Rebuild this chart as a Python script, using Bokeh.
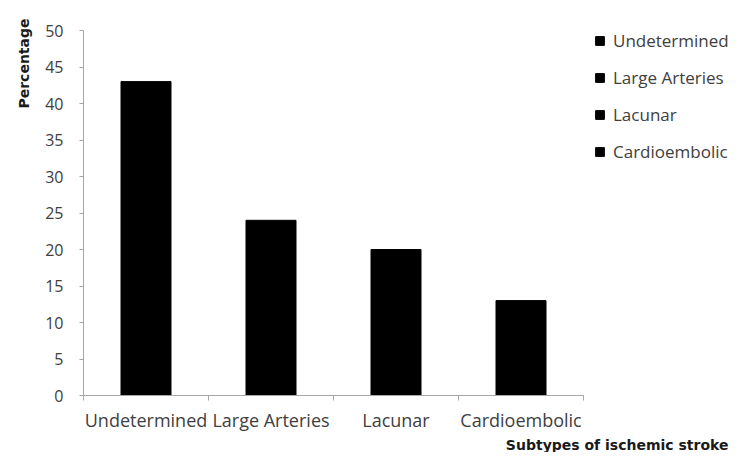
from bokeh.plotting import figure
from bokeh.models import ColumnDataSource, Range1d, FixedTicker, Legend, LegendItem, Title
from bokeh.embed import file_html
from bokeh.resources import INLINE

categories = ["Undetermined", "Large Arteries", "Lacunar", "Cardioembolic"]
values = [43, 24, 20, 13]
y_ticks = [0, 5, 10, 15, 20, 25, 30, 35, 40, 45, 50]

xs = [i + 0.5 for i in range(len(categories))]
src = ColumnDataSource(dict(x=xs, top=values, cat=categories))

W, H = 732, 452
left, bottom = 83, 55
x_end = (W - left) / 125.0
y_end = 50 + 30 / 7.3   # room above the 50 tick for the legend

p = figure(width=W, height=H, output_backend="svg", toolbar_location=None,
           x_range=Range1d(0, x_end), y_range=Range1d(0, y_end),
           min_border_left=left, min_border_right=0, min_border_top=0, min_border_bottom=bottom)
p.outline_line_color = None
p.xgrid.grid_line_color = None
p.ygrid.grid_line_color = None

r = p.vbar(x="x", top="top", width=0.4, bottom=0, source=src, color="black")

AX = "#a6a6a6"
LBL = "#404040"
FONT = "Open Sans"
TFONT = "DejaVu Sans"

# y axis
p.yaxis.bounds = (0, 50)
p.yaxis.ticker = FixedTicker(ticks=y_ticks)
p.yaxis.axis_line_color = AX
p.yaxis.major_tick_line_color = AX
p.yaxis.major_tick_out = 4
p.yaxis.major_tick_in = 0
p.yaxis.minor_tick_line_color = None
p.yaxis.major_label_text_font = FONT
p.yaxis.major_label_text_font_size = "16px"
p.yaxis.major_label_text_color = LBL
p.yaxis.major_label_standoff = 16

# x axis: labels at centres, ticks at category boundaries
p.xaxis.bounds = (0, len(categories))
p.xaxis.ticker = FixedTicker(ticks=xs, minor_ticks=list(range(len(categories) + 1)))
p.xaxis.major_label_overrides = {x: c for x, c in zip(xs, categories)}
p.xaxis.axis_line_color = AX
p.xaxis.major_tick_line_color = None
p.xaxis.minor_tick_line_color = AX
p.xaxis.minor_tick_out = 5
p.xaxis.minor_tick_in = 0
p.xaxis.major_label_text_font = FONT
p.xaxis.major_label_text_font_size = "18px"
p.xaxis.major_label_text_color = LBL
p.xaxis.major_label_standoff = 6

# axis titles
p.add_layout(Title(text="Percentage", align="right", offset=18, standoff=22,
                   text_font=TFONT, text_font_style="bold",
                   text_font_size="14px", text_color="#1a1a1a"), "left")
p.add_layout(Title(text="Subtypes of ischemic stroke", align="right", offset=4, standoff=0,
                   text_font=TFONT, text_font_style="bold",
                   text_font_size="14px", text_color="#1a1a1a"), "below")

legend = Legend(items=[LegendItem(label=c, renderers=[r], index=i) for i, c in enumerate(categories)],
                location=(511, 232), margin=0, padding=0, border_line_color=None,
                background_fill_alpha=0, glyph_width=11, glyph_height=11,
                label_standoff=8, label_height=22, spacing=14,
                label_text_font=FONT, label_text_font_size="17px",
                label_text_color=LBL)
p.add_layout(legend, "center")

open("out.html", "w").write(file_html(p, INLINE))
